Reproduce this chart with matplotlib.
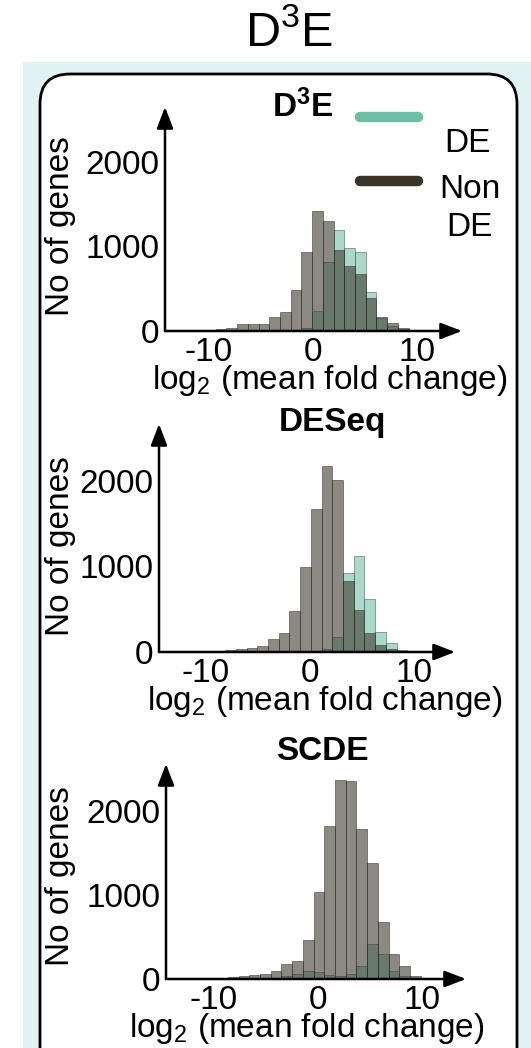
import numpy as np
import matplotlib.pyplot as plt
from matplotlib.patches import FancyBboxPatch, Rectangle
from matplotlib.lines import Line2D

plt.rcParams['font.family'] = 'Liberation Sans'
plt.rcParams['mathtext.fontset'] = 'custom'
plt.rcParams['mathtext.rm'] = 'Liberation Sans'
plt.rcParams['mathtext.bf'] = 'Liberation Sans:bold'
plt.rcParams['mathtext.it'] = 'Liberation Sans:italic'
plt.rcParams['axes.unicode_minus'] = False

# histogram bins (k = -10 .. 9), counts
bin_index = np.arange(-10, 10)
bin_width = 1.03

d3e_nonde = [10, 20, 40, 80, 80, 85, 170, 230, 480, 940,
             1420, 1300, 960, 765, 670, 390, 170, 100, 40, 10]
d3e_de = [0, 0, 0, 0, 0, 0, 0, 5, 10, 30,
          235, 820, 1190, 980, 935, 460, 150, 60, 20, 5]

deseq_nonde = [5, 10, 20, 30, 45, 70, 150, 220, 480, 995,
               1670, 2170, 2010, 830, 495, 220, 85, 30, 15, 5]
deseq_de = [0, 0, 0, 0, 0, 0, 0, 0, 0, 0,
            10, 30, 170, 920, 1120, 620, 230, 110, 20, 5]

scde_nonde = [5, 10, 20, 30, 50, 60, 90, 175, 220, 470,
              1035, 1820, 2365, 2355, 1790, 1380, 675, 295, 150, 40]
scde_de = [0, 0, 0, 0, 0, 5, 10, 30, 60, 100,
           80, 50, 40, 60, 160, 415, 295, 100, 40, 10]

yticks = [0, 1000, 2000]
xticks = [-10, 0, 10]

teal = '#6dbea6'
dark = '#3a3428'

W, H = 531, 1048
fig = plt.figure(figsize=(W / 100, H / 100), dpi=100)

# background in pixel coordinates
bg = fig.add_axes([0, 0, 1, 1], zorder=-1)
bg.set_xlim(0, W)
bg.set_ylim(H, 0)
bg.axis('off')
bg.add_patch(Rectangle((23, 62), W - 23, H - 62, fc='#e0f2f2', lw=0))
bg.add_patch(FancyBboxPatch((40, 74), 477, 1100,
                            boxstyle='round,pad=0,rounding_size=30',
                            fc='white', ec='black', lw=2))
bg.text(289, 33, r'D$^3$E', fontsize=35, ha='center', va='center')

# legend
bg.add_line(Line2D([360, 418], [117, 117], color=teal, lw=7.5, solid_capstyle='round'))
bg.add_line(Line2D([360, 418], [181, 181], color=dark, lw=7.5, solid_capstyle='round'))
bg.text(467, 143, 'DE', fontsize=24, ha='center', va='center')
bg.text(470, 189, 'Non', fontsize=24, ha='center', va='center')
bg.text(469, 228, 'DE', fontsize=24, ha='center', va='center')


def panel(box, zero_px, px_per_1000, offset, nonde, de, title, title_xy, ylab_xy, xlab_xy):
    left, right, top, bottom = box
    ax = fig.add_axes([left / W, 1 - bottom / H, (right - left) / W, (bottom - top) / H])
    ax.patch.set_alpha(0)
    ax.set_xlim((left - zero_px) / 10.4, (right - zero_px) / 10.4)
    ax.set_ylim(0, (bottom - top) / px_per_1000 * 1000)
    x = offset + bin_index * bin_width
    ax.bar(x, de, width=bin_width, color=teal, alpha=0.58,
           edgecolor='#3c4a40', linewidth=0.6)
    ax.bar(x, nonde, width=bin_width, color=dark, alpha=0.58,
           edgecolor='#2a2820', linewidth=0.6)
    for s in ax.spines.values():
        s.set_visible(False)
    arrow = dict(arrowstyle='-|>,head_length=1.3,head_width=0.5', color='black',
                 lw=1.8, shrinkA=0, shrinkB=0, mutation_scale=10)
    ax.annotate('', xy=(1, 0), xytext=(0, 0), xycoords='axes fraction',
                arrowprops=arrow, annotation_clip=False)
    ax.annotate('', xy=(0, 1), xytext=(0, 0), xycoords='axes fraction',
                arrowprops=arrow, annotation_clip=False)
    ax.set_xticks(xticks)
    ax.set_yticks(yticks)
    ax.tick_params(length=0, labelsize=24, pad=4)
    bg.text(*title_xy, title, fontsize=24, fontweight='bold', ha='center', va='center')
    bg.text(*ylab_xy, 'No of genes', fontsize=24, rotation=90, ha='center', va='center')
    bg.text(*xlab_xy, r'log$_2$ (mean fold change)', fontsize=24, ha='center', va='baseline')
    return ax


panel((165, 462, 107, 331), 313, 84.5, 0.43, d3e_nonde, d3e_de,
      r'$\mathbf{D^3E}$', (303, 107), (60, 226), (330, 389))
panel((159, 455, 424, 652), 310, 85.5, 0.60, deseq_nonde, deseq_de,
      'DESeq', (332, 422), (61, 546), (325, 710))
panel((166, 466, 764, 979), 318, 84.0, 0.09, scde_nonde, scde_de,
      'SCDE', (322, 752), (61, 876), (307, 1037))

fig.savefig('out.png', dpi=100)
